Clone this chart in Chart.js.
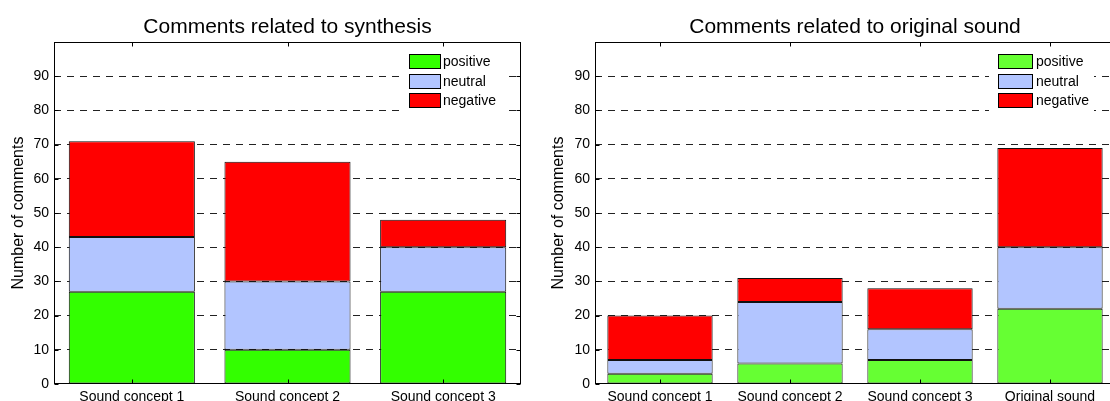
<!DOCTYPE html>
<html>
<head>
<meta charset="utf-8">
<script src="https://cdn.jsdelivr.net/npm/chart.js@4.4.1/dist/chart.umd.min.js"></script>
<style>
  html, body { margin: 0; padding: 0; background: #fff; overflow: hidden; width: 1110px; height: 401px; }
  canvas { position: absolute; top: 0; }
  #synthChart { left: 0; }
  #origChart { left: 540px; }
</style>
</head>
<body>
<canvas id="synthChart" width="540" height="401"></canvas>
<canvas id="origChart" width="580" height="401"></canvas>
<script>
// Comments related to synthesis
const synthCategories = ['Sound concept 1', 'Sound concept 2', 'Sound concept 3'];
const synthPositive = [27, 10, 27];
const synthNeutral  = [16, 20, 13];
const synthNegative = [28, 35, 8];

// Comments related to original sound
const origCategories = ['Sound concept 1', 'Sound concept 2', 'Sound concept 3', 'Original sound'];
const origPositive = [3, 6, 7, 22];
const origNeutral  = [4, 18, 9, 18];
const origNegative = [13, 7, 12, 29];

// Value axis
const yMin = 0;
const yMax = 100;
const yStep = 10;
const yTickLabels = ['0', '10', '20', '30', '40', '50', '60', '70', '80', '90'];

const FONT = '"Liberation Sans", Arial, Helvetica, sans-serif';
Chart.defaults.font.family = FONT;
Chart.defaults.color = '#000';

// Axis box with inward tick marks on all four sides
const framePlugin = {
  id: 'frame',
  afterDatasetsDraw(chart) {
    const { ctx, chartArea: a, scales: { x, y } } = chart;
    const L = Math.round(a.left) + 0.5, R = Math.round(a.right) - 0.5;
    const T = Math.round(a.top) + 0.5, B = Math.round(a.bottom) - 0.5;
    const t = 4;
    ctx.save();
    ctx.setLineDash([]);
    ctx.strokeStyle = '#000';
    ctx.lineWidth = 1;
    ctx.strokeRect(L, T, R - L, B - T);
    ctx.beginPath();
    y.ticks.forEach((tk, i) => {
      const py = Math.round(y.getPixelForTick(i)) + 0.5;
      ctx.moveTo(L, py); ctx.lineTo(L + t, py);
      ctx.moveTo(R, py); ctx.lineTo(R - t, py);
    });
    x.ticks.forEach((tk, i) => {
      const px = Math.round(x.getPixelForTick(i)) + 0.5;
      ctx.moveTo(px, T); ctx.lineTo(px, T + t);
      ctx.moveTo(px, B); ctx.lineTo(px, B - t);
    });
    ctx.stroke();
    ctx.restore();
  }
};

// Legend drawn inside the plot's upper right corner
const boxLegendPlugin = {
  id: 'boxLegend',
  afterDraw(chart, args, opts) {
    const { ctx } = chart;
    ctx.save();
    ctx.fillStyle = '#fff';
    ctx.fillRect(opts.boxX - 9, 51, 105, 61);
    ctx.font = '14px ' + FONT;
    ctx.textBaseline = 'middle';
    ctx.textAlign = 'left';
    chart.data.datasets.forEach((ds, i) => {
      const cy = opts.rows[i];
      const top = Math.round(cy - opts.boxH / 2) + 0.5;
      ctx.fillStyle = ds.backgroundColor;
      ctx.fillRect(opts.boxX + 0.5, top, opts.boxW, opts.boxH);
      ctx.strokeStyle = '#000';
      ctx.lineWidth = 1;
      ctx.strokeRect(opts.boxX + 0.5, top, opts.boxW, opts.boxH);
      ctx.fillStyle = '#000';
      ctx.fillText(ds.label, opts.textX, cy + 1);
    });
    ctx.restore();
  }
};

function makeChart(canvasId, title, categories, pos, neu, neg, posColor, rightPad, yWidth, legendOpts) {
  const barStyle = { borderColor: '#111', borderWidth: 1, borderSkipped: false,
                     categoryPercentage: 0.81, barPercentage: 1.0 };
  return new Chart(document.getElementById(canvasId), {
    type: 'bar',
    data: {
      labels: categories,
      datasets: [
        Object.assign({ label: 'positive', data: pos, backgroundColor: posColor }, barStyle),
        Object.assign({ label: 'neutral',  data: neu, backgroundColor: '#b2c5ff' }, barStyle),
        Object.assign({ label: 'negative', data: neg, backgroundColor: '#ff0000' }, barStyle)
      ]
    },
    options: {
      responsive: false,
      devicePixelRatio: 1,
      animation: false,
      layout: { padding: { left: 0, right: rightPad, top: 0, bottom: 0 } },
      plugins: {
        legend: { display: false },
        tooltip: { enabled: false },
        title: {
          display: true, text: title, fullSize: false,
          font: { size: 21, weight: 'normal' }, color: '#000',
          padding: { top: 15, bottom: 1.8 }
        },
        boxLegend: legendOpts
      },
      scales: {
        x: {
          stacked: true,
          grid: { display: false, drawTicks: false },
          border: { display: false },
          ticks: { font: { size: 14 }, color: '#000', padding: 5, maxRotation: 0, autoSkip: false },
          afterFit(s) { s.height = 17; }
        },
        y: {
          stacked: true,
          min: yMin, max: yMax,
          ticks: {
            stepSize: yStep, font: { size: 14 }, color: '#000', padding: 5,
            callback: (v) => { const i = Math.round((v - yMin) / yStep); return yTickLabels[i] !== undefined ? yTickLabels[i] : ''; }
          },
          grid: {
            drawTicks: false, lineWidth: 1,
            color: (c) => (c.tick && (c.tick.value === yMin || c.tick.value === yMax)) ? 'rgba(0,0,0,0)' : '#222'
          },
          border: { display: false, dash: [7, 6] },
          title: { display: true, text: 'Number of comments', font: { size: 16 }, color: '#000', padding: { top: 9, bottom: 0 } },
          afterFit(s) { s.width = yWidth; }
        }
      }
    },
    plugins: [framePlugin, boxLegendPlugin]
  });
}

makeChart('synthChart', 'Comments related to synthesis',
  synthCategories, synthPositive, synthNeutral, synthNegative, '#33ff00', 19, 54,
  { boxX: 409, boxW: 31, boxH: 14, textX: 443, rows: [61, 81, 100] });

makeChart('origChart', 'Comments related to original sound',
  origCategories, origPositive, origNeutral, origNegative, '#66ff33', 5, 55,
  { boxX: 458, boxW: 34, boxH: 14, textX: 496, rows: [61, 81, 100] });
</script>
</body>
</html>
